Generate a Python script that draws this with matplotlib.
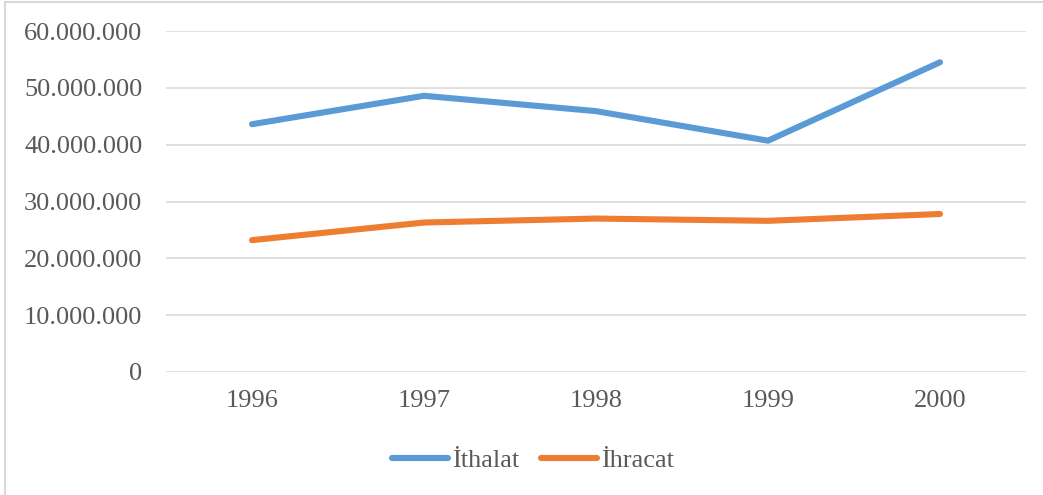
import matplotlib
matplotlib.use("Agg")
import matplotlib.pyplot as plt
from matplotlib.lines import Line2D
from matplotlib.ticker import FuncFormatter

years = ["1996", "1997", "1998", "1999", "2000"]
ithalat = [43_600_000, 48_600_000, 45_900_000, 40_700_000, 54_500_000]
ihracat = [23_200_000, 26_300_000, 27_000_000, 26_600_000, 27_800_000]
yticks = [0, 10_000_000, 20_000_000, 30_000_000, 40_000_000, 50_000_000, 60_000_000]

plt.rcParams["font.family"] = ["Liberation Serif", "DejaVu Serif"]
TXT = "#595959"
GRID = "#D9D9D9"

fig = plt.figure(figsize=(10.43, 4.95), dpi=100)
ax = fig.add_axes([166 / 1043, 1 - 372 / 495, 860 / 1043, 341 / 495])

x = list(range(len(years)))
ax.plot(x, ithalat, color="#5B9BD5", lw=4.4, solid_capstyle="round",
        solid_joinstyle="round", label="İthalat", zorder=3)
ax.plot(x, ihracat, color="#ED7D31", lw=4.4, solid_capstyle="round",
        solid_joinstyle="round", label="İhracat", zorder=3)

ax.set_xlim(-0.5, len(years) - 0.5)
ax.set_ylim(0, 60_000_000)
ax.set_xticks(x)
ax.set_xticklabels(years)
ax.set_yticks(yticks)
ax.yaxis.set_major_formatter(FuncFormatter(lambda v, _: f"{int(v):,}".replace(",", ".")))
ax.grid(axis="y", color=GRID, lw=1.2)
ax.set_axisbelow(True)
for s in ax.spines.values():
    s.set_visible(False)
ax.tick_params(axis="both", length=0, labelsize=19, colors=TXT)
ax.tick_params(axis="y", pad=17)
ax.tick_params(axis="x", pad=13)

fig.legend(loc="center", bbox_to_anchor=(533 / 1043, 1 - 460 / 495), ncol=2,
           frameon=False, fontsize=19, handlelength=2.1, handletextpad=0.15,
           columnspacing=0.85, labelcolor=TXT)

# chart area border (only top and left visible in the reference)
fig.add_artist(Line2D([5 / 1043, 1], [1 - 2 / 495, 1 - 2 / 495],
                      transform=fig.transFigure, color=GRID, lw=1.5))
fig.add_artist(Line2D([5 / 1043, 5 / 1043], [0, 1 - 2 / 495],
                      transform=fig.transFigure, color=GRID, lw=1.5))

fig.savefig("out.png", dpi=100)
